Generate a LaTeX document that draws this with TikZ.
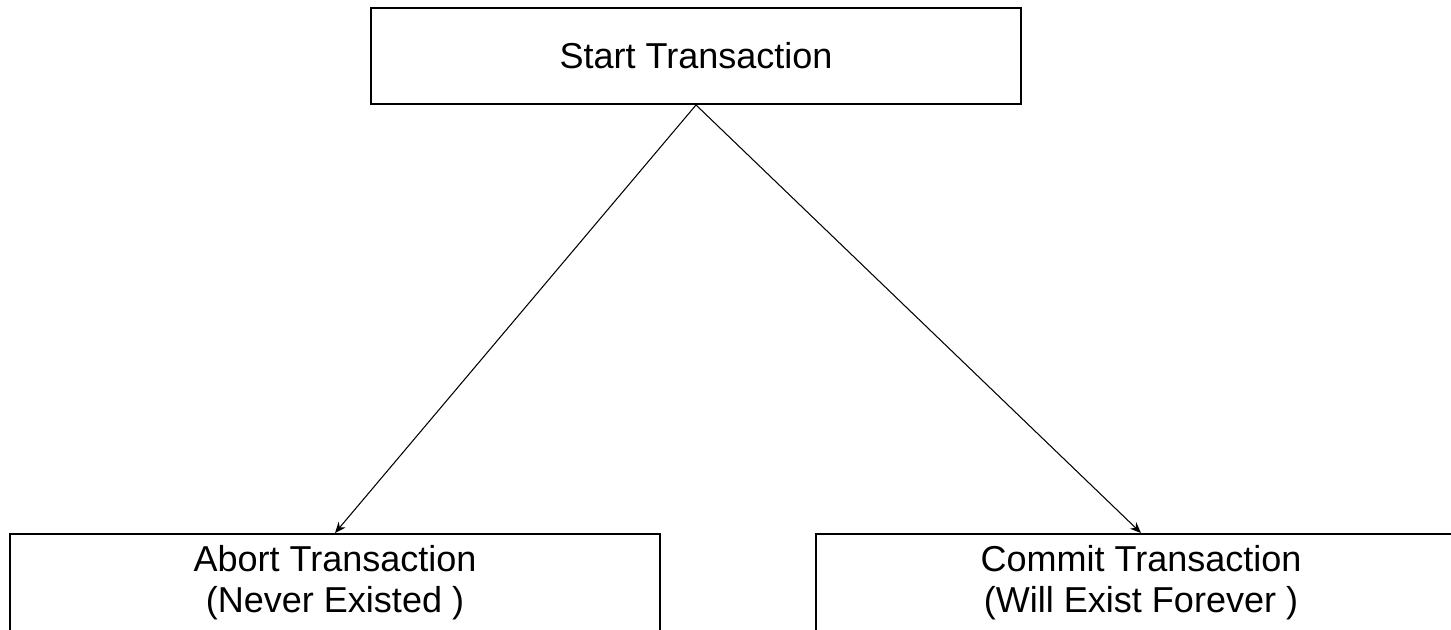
\documentclass[tikz,border=0pt]{standalone}
\usepackage{fontspec}
\setmainfont{Liberation Sans}
\usetikzlibrary{arrows.meta, positioning}

\tikzset{
    txbox/.style={draw, line width=1.1pt, minimum width=13cm, align=center, inner sep=0pt,
        font=\fontsize{20.5}{23.5}\selectfont},
    txarrow/.style={-{Stealth[length=2.2mm, width=1.8mm]}, line width=0.6pt}
}

\begin{document}
\begin{tikzpicture}
    \useasboundingbox (0,0) rectangle (29.02,-12.58);

    % Start
    \node[txbox, minimum height=1.92cm] (start) at (13.92, -1.12) {Start Transaction};

    % Outcomes
    \node[txbox, minimum height=1.96cm] (abort) at (6.7, -11.66) {Abort Transaction\\(Never Existed )};
    \node[txbox, minimum height=1.96cm] (commit) at (22.82, -11.66) {Commit Transaction\\(Will Exist Forever )};

    \draw[txarrow] (start.south) -- (abort.north);
    \draw[txarrow] (start.south) -- (commit.north);
\end{tikzpicture}
\end{document}
